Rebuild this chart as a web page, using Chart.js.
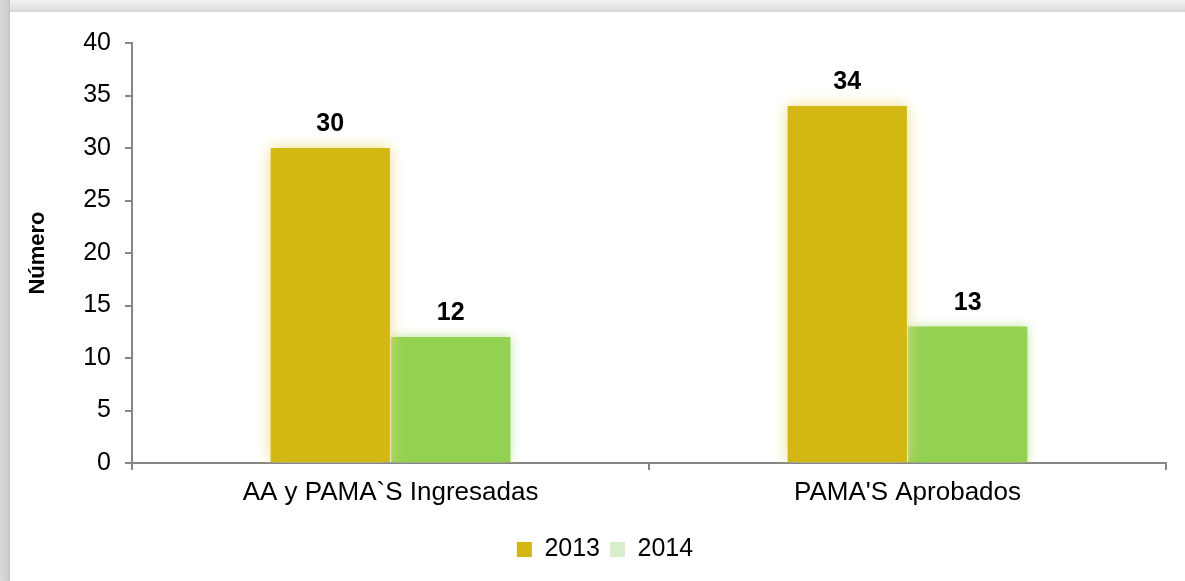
<!DOCTYPE html>
<html lang="es">
<head>
<meta charset="UTF-8">
<title>AA y PAMA'S</title>
<script src="https://cdn.jsdelivr.net/npm/chart.js"></script>
<style>
  html, body { margin: 0; padding: 0; background: #fff; }
  #wrap { position: relative; width: 1185px; height: 581px; overflow: hidden; }
  .edge-left { position: absolute; left: 0; top: 0; width: 10px; height: 581px;
    background: linear-gradient(to right, #dadada, #cfcfcf 70%, #c4c4c4); }
  .edge-top { position: absolute; left: 0; top: 0; width: 1185px; height: 12px;
    background: linear-gradient(to bottom, #f2f2f2, #e4e4e4 60%, #d6d6d6); }
  canvas { position: absolute; left: 0; top: 0; }
</style>
</head>
<body>
<div id="wrap">
  <div class="edge-top"></div>
  <div class="edge-left"></div>
  <canvas id="chart" width="1185" height="581"></canvas>
</div>
<script>
const categories = ['AA y PAMA`S Ingresadas', "PAMA'S Aprobados"];
const values2013 = [30, 34];
const values2014 = [12, 13];
const yTicks = { min: 0, max: 40, step: 5 };

const FONT = "'Liberation Sans', Arial, sans-serif";
const axisGrey = '#868686';

// soft glow round the bars, like the Excel "glow / soft edges" effect
const barGlow = {
  id: 'barGlow',
  beforeDatasetDraw(chart, args) {
    const ds = chart.data.datasets[args.index];
    chart.ctx.save();
    chart.ctx.shadowColor = ds.glowColor;
    chart.ctx.shadowBlur = ds.glowBlur;
  },
  afterDatasetDraw(chart) {
    chart.ctx.restore();
  }
};

// bold value above each bar
const valueLabels = {
  id: 'valueLabels',
  afterDatasetsDraw(chart) {
    const ctx = chart.ctx;
    ctx.save();
    ctx.font = 'bold 25px ' + FONT;
    ctx.fillStyle = '#000';
    ctx.textAlign = 'center';
    ctx.textBaseline = 'alphabetic';
    chart.data.datasets.forEach((ds, i) => {
      chart.getDatasetMeta(i).data.forEach((bar, j) => {
        ctx.fillText(ds.data[j], bar.x, bar.y - 17);
      });
    });
    ctx.restore();
  }
};

// the legend sits a little left of the plot centre in the original
const legendShift = {
  id: 'legendShift',
  afterLayout(chart) {
    chart.legend.left += 22;
    chart.legend.right += 22;
  }
};

new Chart(document.getElementById('chart'), {
  type: 'bar',
  data: {
    labels: categories,
    datasets: [
      {
        label: '2013',
        data: values2013,
        backgroundColor: '#D3B712',
        legendColor: '#D3B712',
        glowColor: 'rgba(236,220,130,1)',
        glowBlur: 14
      },
      {
        label: '2014',
        data: values2014,
        backgroundColor: '#93D152',
        legendColor: '#D8EDCA',
        glowColor: 'rgba(180,225,140,0.95)',
        glowBlur: 10
      }
    ]
  },
  options: {
    responsive: false,
    animation: false,
    categoryPercentage: 0.466,
    barPercentage: 0.99,
    layout: { padding: { top: 43, left: 0, right: 19, bottom: 9 } },
    scales: {
      x: {
        border: { color: axisGrey, width: 2 },
        grid: { drawOnChartArea: false, color: axisGrey, lineWidth: 2, tickLength: 7 },
        ticks: { color: '#000', font: { family: FONT, size: 26 }, padding: 7, maxRotation: 0 },
        afterFit(scale) { scale.height = 64; }
      },
      y: {
        min: yTicks.min,
        max: yTicks.max,
        border: { color: axisGrey, width: 2 },
        grid: { drawOnChartArea: false, color: axisGrey, lineWidth: 2, tickLength: 7 },
        ticks: { stepSize: yTicks.step, color: '#000', font: { family: FONT, size: 25 }, padding: 14 },
        title: {
          display: true,
          text: 'Número',
          color: '#000',
          font: { family: FONT, size: 22, weight: 'bold' },
          padding: { top: 25, bottom: 0 }
        },
        afterFit(scale) { scale.width = 132; }
      }
    },
    plugins: {
      tooltip: { enabled: false },
      legend: {
        position: 'bottom',
        labels: {
          color: '#000',
          font: { family: FONT, size: 25 },
          boxWidth: 15,
          boxHeight: 15,
          padding: 10,
          generateLabels(chart) {
            return chart.data.datasets.map((ds, i) => ({
              text: ds.label,
              fillStyle: ds.legendColor,
              strokeStyle: ds.legendColor,
              lineWidth: 0,
              hidden: false,
              datasetIndex: i,
              fontColor: '#000'
            }));
          }
        }
      }
    }
  },
  plugins: [barGlow, valueLabels, legendShift]
});
</script>
</body>
</html>
